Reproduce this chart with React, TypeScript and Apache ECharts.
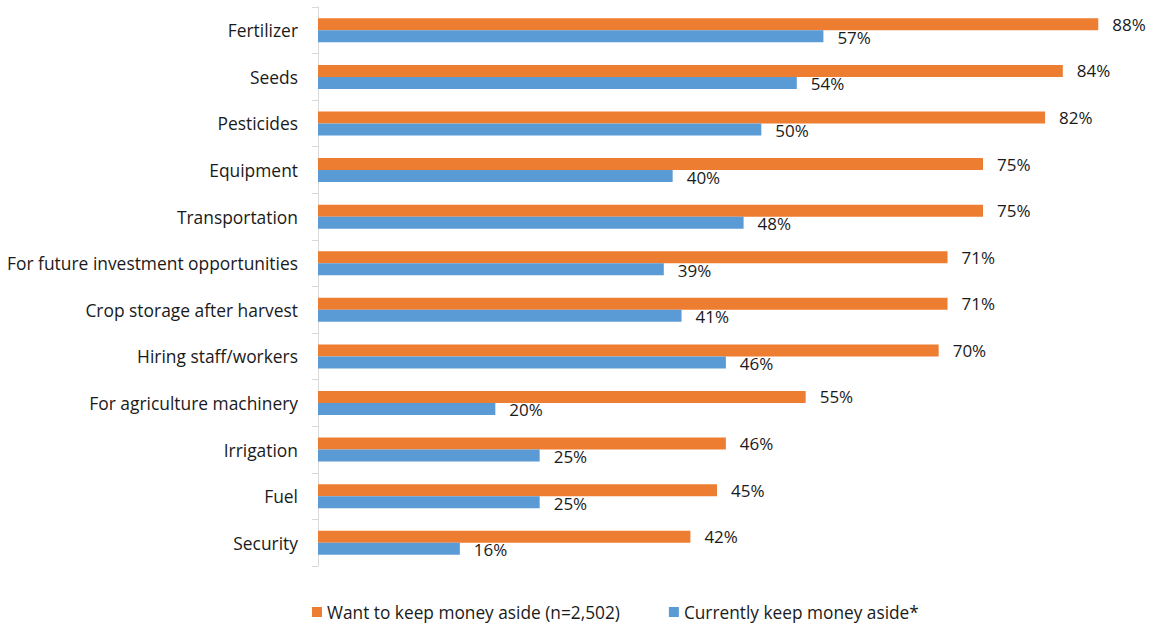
import React, { useEffect, useRef } from "react";
import * as echarts from "echarts";

const categories = [
  "Fertilizer",
  "Seeds",
  "Pesticides",
  "Equipment",
  "Transportation",
  "For future investment opportunities",
  "Crop storage after harvest",
  "Hiring staff/workers",
  "For agriculture machinery",
  "Irrigation",
  "Fuel",
  "Security",
];
const wantValues = [88, 84, 82, 75, 75, 71, 71, 70, 55, 46, 45, 42];
const currentValues = [57, 54, 50, 40, 48, 39, 41, 46, 20, 25, 25, 16];
const seriesNames = ["Want to keep money aside (n=2,502)", "Currently keep money aside*"];

const FONT = "Open Sans";

export default function App() {
  const ref = useRef<HTMLDivElement>(null);
  useEffect(() => {
    document.body.style.margin = "0";
    const chart = echarts.init(ref.current!, null, { renderer: "svg" });
    const label = {
      show: true,
      position: "right" as const,
      distance: 14,
      formatter: (p: any) => p.value + "%",
      color: "#1a1a1a",
      fontSize: 17,
      fontFamily: FONT,
    };
    chart.setOption({
      animation: false,
      textStyle: { fontFamily: FONT },
      grid: { left: 318, right: 37, top: 7, bottom: 59, containLabel: false },
      legend: {
        left: 312,
        top: 600,
        padding: 0,
        icon: "rect",
        itemWidth: 10,
        itemHeight: 10,
        itemGap: 49,
        textStyle: { fontSize: 17.3, color: "#1a1a1a", fontFamily: FONT, lineHeight: 24 },
        data: seriesNames,
      },
      xAxis: {
        type: "value",
        min: 0,
        max: 90,
        show: false,
      },
      yAxis: {
        type: "category",
        data: categories,
        inverse: true,
        axisLine: { show: true, lineStyle: { color: "#d9d9d9", width: 1 } },
        axisTick: { show: true, length: 6, lineStyle: { color: "#d9d9d9" } },
        axisLabel: { fontSize: 17.4, color: "#1a1a1a", margin: 20, fontFamily: FONT },
        splitLine: { show: false },
      },
      series: [
        {
          name: seriesNames[0],
          type: "bar",
          data: wantValues,
          itemStyle: { color: "#ED7D31" },
          barWidth: 12,
          barGap: "0%",
          barCategoryGap: "46%",
          label: { ...label, offset: [0, 0] },
        },
        {
          name: seriesNames[1],
          type: "bar",
          data: currentValues,
          itemStyle: { color: "#5B9BD5" },
          barWidth: 12,
          barGap: "0%",
          label: { ...label, offset: [0, 1] },
        },
      ],
    });
    return () => chart.dispose();
  }, []);
  return <div ref={ref} style={{ width: 1153, height: 625 }} />;
}
